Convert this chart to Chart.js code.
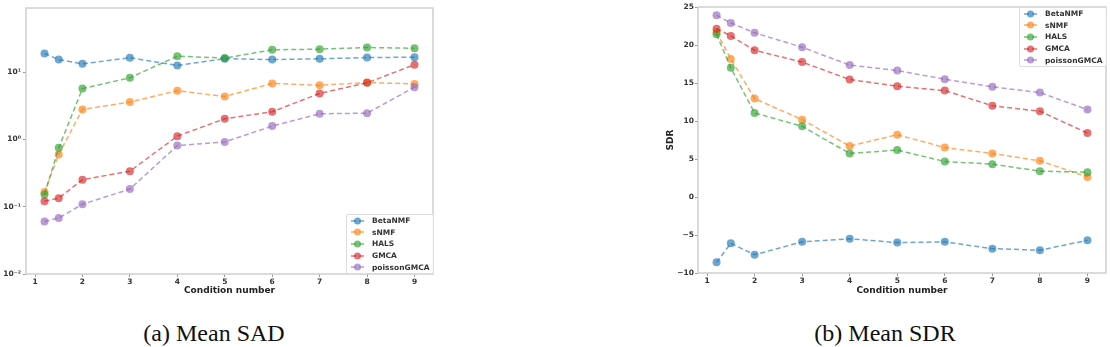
<!DOCTYPE html>
<html>
<head>
<meta charset="utf-8">
<script src="https://cdn.jsdelivr.net/npm/chart.js@4.4.1/dist/chart.umd.min.js"></script>
<style>
  html, body { margin: 0; padding: 0; background: #fff; }
  body { width: 1110px; height: 347px; position: relative; overflow: hidden; }
  canvas { position: absolute; top: 0; }
  #sadChart { left: -32px; }
  #sdrChart { left: 640px; }
  .legend {
    position: absolute;
    background: rgba(255,255,255,0.85);
    border: 1px solid #ddd;
    border-radius: 2px;
    padding: 0 4px 0 4px;
    font-family: 'DejaVu Sans', sans-serif;
    font-weight: bold;
    font-size: 7.5px;
    color: #333;
  }
  .legend .item { display: flex; align-items: center; height: 11.6px; }
  .legend svg { margin-right: 8px; }
  .caption {
    position: absolute;
    top: 320px;
    font-family: 'Liberation Serif', 'Times New Roman', serif;
    font-size: 24px;
    color: #111;
    transform: translateX(-50%);
    white-space: nowrap;
  }
</style>
</head>
<body>
<canvas id="sadChart" width="472" height="300"></canvas>
<canvas id="sdrChart" width="470" height="300"></canvas>
<div class="legend" id="sadLegend" style="left:346px; top:214px;"></div>
<div class="legend" id="sdrLegend" style="left:1019px; top:7px;"></div>
<div class="caption" style="left:214px;">(a) Mean SAD</div>
<div class="caption" style="left:885px;">(b) Mean SDR</div>

<script>
// condition numbers (x) and tick labels
const conditionNumbers = [1.2, 1.5, 2, 3, 4, 5, 6, 7, 8, 9];
const xTickValues = [1, 2, 3, 4, 5, 6, 7, 8, 9];
const sadTickValues = [0.01, 0.1, 1, 10];
const sadTickLabels = ['10\u207B\u00B2', '10\u207B\u00B9', '10\u2070', '10\u00B9'];

const methods = ['BetaNMF', 'sNMF', 'HALS', 'GMCA', 'poissonGMCA'];
const colors = ['31, 119, 180', '255, 127, 14', '44, 160, 44', '214, 39, 40', '148, 103, 189'];

// Mean SAD (log scale)
const sadBetaNMF = [19, 15.4, 13.3, 16.4, 12.6, 15.9, 15.4, 15.8, 16.5, 16.7];
const sadSNMF = [0.165, 0.6, 2.8, 3.6, 5.3, 4.35, 6.8, 6.4, 7.0, 6.7];
const sadHALS = [0.152, 0.75, 5.7, 8.25, 17.3, 16.2, 21.5, 22, 23.3, 22.7];
const sadGMCA = [0.121, 0.134, 0.252, 0.338, 1.12, 2.03, 2.58, 4.83, 6.95, 12.9];
const sadPoissonGMCA = [0.0605, 0.068, 0.109, 0.183, 0.81, 0.92, 1.58, 2.41, 2.46, 5.98];

// Mean SDR
const sdrBetaNMF = [-8.6, -6.1, -7.6, -5.9, -5.5, -6.0, -5.9, -6.8, -7.0, -5.7];
const sdrSNMF = [21.7, 18.15, 12.95, 10.17, 6.7, 8.2, 6.5, 5.73, 4.76, 2.64];
const sdrHALS = [21.4, 17.0, 11.06, 9.3, 5.73, 6.17, 4.67, 4.32, 3.4, 3.26];
const sdrGMCA = [22.15, 21.2, 19.3, 17.75, 15.46, 14.58, 14.0, 12.0, 11.28, 8.41];
const sdrPoissonGMCA = [23.9, 22.9, 21.6, 19.7, 17.36, 16.64, 15.5, 14.5, 13.74, 11.5];

const sadSeries = [sadBetaNMF, sadSNMF, sadHALS, sadGMCA, sadPoissonGMCA];
const sdrSeries = [sdrBetaNMF, sdrSNMF, sdrHALS, sdrGMCA, sdrPoissonGMCA];

const tickFont = { family: 'DejaVu Sans', size: 7.5, weight: 'bold' };
const titleFont = { family: 'DejaVu Sans', size: 9, weight: 'bold' };

// frame around the plot area, like matplotlib spines
const framePlugin = {
    id: 'frame',
    afterDraw(chart) {
        const a = chart.chartArea;
        const ctx = chart.ctx;
        ctx.save();
        ctx.strokeStyle = '#cfcfcf';
        ctx.lineWidth = 1.5;
        ctx.strokeRect(a.left, a.top, a.right - a.left, a.bottom - a.top);
        ctx.restore();
    }
};

function makeDatasets(series) {
    return series.map((values, i) => ({
        label: methods[i],
        data: values.map((v, j) => ({ x: conditionNumbers[j], y: v })),
        borderColor: 'rgba(' + colors[i] + ', 0.65)',
        backgroundColor: 'rgba(' + colors[i] + ', 0.65)',
        borderWidth: 1.5,
        borderDash: [5, 3],
        pointRadius: 4,
        pointBorderWidth: 0,
        pointBackgroundColor: 'rgba(' + colors[i] + ', 0.65)',
        order: series.length - i
    }));
}

function xScale(axisHeight) {
    return {
        type: 'linear',
        min: 0.81,
        max: 9.39,
        afterBuildTicks: scale => { scale.ticks = xTickValues.map(v => ({ value: v })); },
        afterFit: scale => { scale.height = axisHeight; },
        grid: { drawOnChartArea: false, color: '#999', tickLength: 3 },
        border: { display: false },
        ticks: { font: tickFont, color: '#333', padding: 1, maxRotation: 0 },
        title: { display: true, text: 'Condition number', font: titleFont, color: '#222', padding: { top: 0, bottom: 4 } }
    };
}

function baseOptions(padding) {
    return {
        responsive: false,
        animation: false,
        devicePixelRatio: 1,
        layout: { padding: padding },
        plugins: { legend: { display: false }, tooltip: { enabled: false } }
    };
}

// SAD chart
const sadOptions = baseOptions({ top: 8, right: 7, left: 0, bottom: 0 });
sadOptions.scales = {
    x: xScale(26),
    y: {
        type: 'logarithmic',
        min: 0.01,
        max: 90,
        afterBuildTicks: scale => { scale.ticks = sadTickValues.map(v => ({ value: v })); },
        afterFit: scale => { scale.width = 58; },
        grid: { drawOnChartArea: false, color: '#999', tickLength: 3 },
        border: { display: false },
        ticks: {
            font: tickFont, color: '#333', padding: 2,
            callback: value => {
                const k = sadTickValues.findIndex(t => Math.abs(t - value) < t * 1e-6);
                return k >= 0 ? sadTickLabels[k] : '';
            }
        },
        title: { display: true, text: 'SAD', font: titleFont, color: '#222', padding: { top: 24, bottom: 0 } }
    }
};
new Chart(document.getElementById('sadChart'), {
    type: 'line',
    data: { datasets: makeDatasets(sadSeries) },
    options: sadOptions,
    plugins: [framePlugin]
});

// SDR chart
const sdrOptions = baseOptions({ top: 7, right: 3, left: 0, bottom: 0 });
sdrOptions.scales = {
    x: xScale(27),
    y: {
        type: 'linear',
        min: -10,
        max: 25,
        afterFit: scale => { scale.width = 58; },
        grid: { drawOnChartArea: false, color: '#999', tickLength: 3 },
        border: { display: false },
        ticks: {
            stepSize: 5, font: tickFont, color: '#333', padding: 1,
            callback: value => String(value).replace('-', '\u2212')
        },
        title: { display: true, text: 'SDR', font: titleFont, color: '#222', padding: { top: 25, bottom: 0 } }
    }
};
new Chart(document.getElementById('sdrChart'), {
    type: 'line',
    data: { datasets: makeDatasets(sdrSeries) },
    options: sdrOptions,
    plugins: [framePlugin]
});

// legends
function buildLegend(id) {
    const box = document.getElementById(id);
    methods.forEach((name, i) => {
        const c = 'rgba(' + colors[i] + ', 0.65)';
        const item = document.createElement('div');
        item.className = 'item';
        item.innerHTML =
            '<svg width="13" height="8"><line x1="0" y1="4" x2="13" y2="4" stroke="' + c +
            '" stroke-width="1.5" stroke-dasharray="5,3"/><circle cx="6.5" cy="4" r="3.5" fill="' + c +
            '"/></svg><span>' + name + '</span>';
        box.appendChild(item);
    });
}
buildLegend('sadLegend');
buildLegend('sdrLegend');
</script>
</body>
</html>
